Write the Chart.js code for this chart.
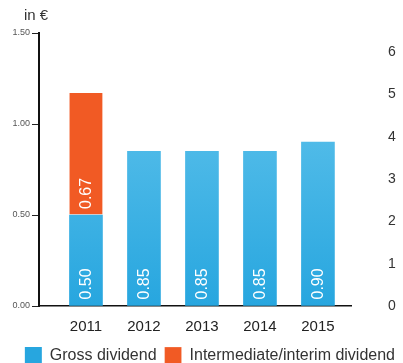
<!DOCTYPE html>
<html>
<head>
<meta charset="utf-8">
<script src="https://cdn.jsdelivr.net/npm/chart.js@4"></script>
<style>
    html, body { margin: 0; padding: 0; background: #fff; }
    #wrap { width: 403px; height: 363px; }
</style>
</head>
<body>
<div id="wrap"><canvas id="dividendChart" width="403" height="363"></canvas></div>
<script>
////// data //////
const years = [2011, 2012, 2013, 2014, 2015];
const grossDividend = [0.50, 0.85, 0.85, 0.85, 0.90];
const interimYears = [2011];
const interimDividend = [0.67];
const yTicks = [0, 0.5, 1.0, 1.5];
const rightTicks = [0, 1, 2, 3, 4, 5, 6];
const unitLabel = 'in €';

const fontFamily = '"Liberation Sans", Arial, sans-serif';

////// DOM //////
const dividendCanvas = document.querySelector('#dividendChart');

// blue bars fade from light at the top to deeper blue at the base
function blueGradient(context) {
    const chart = context.chart;
    const area = chart.chartArea;
    if (!area) return '#3ab0e4';
    const g = chart.ctx.createLinearGradient(0, area.top, 0, area.bottom);
    g.addColorStop(0, '#6ac8ee');
    g.addColorStop(1, '#27a6df');
    return g;
}

// white rotated value text near the bottom of each bar segment
const valueLabels = {
    id: 'valueLabels',
    afterDatasetsDraw(chart) {
        const ctx = chart.ctx;
        chart.data.datasets.forEach((ds, di) => {
            const meta = chart.getDatasetMeta(di);
            meta.data.forEach((bar, i) => {
                const val = ds.data[i].y;
                ctx.save();
                ctx.translate(bar.x, bar.base - 6);
                ctx.rotate(-Math.PI / 2);
                ctx.font = '16px ' + fontFamily;
                ctx.fillStyle = '#ffffff';
                ctx.textAlign = 'left';
                ctx.textBaseline = 'middle';
                ctx.fillText(val.toFixed(2), 0, 1);
                ctx.restore();
            });
        });
    }
};

// unit text sitting above the top of the left axis
const unitTitle = {
    id: 'unitTitle',
    afterDraw(chart) {
        const ctx = chart.ctx;
        const y = chart.scales.y;
        ctx.save();
        ctx.font = '15px ' + fontFamily;
        ctx.fillStyle = '#333';
        ctx.textAlign = 'left';
        ctx.textBaseline = 'middle';
        ctx.fillText(unitLabel, y.right - 15, chart.chartArea.top - 17);
        ctx.restore();
    }
};

////// chart //////
let dividendChart = new Chart(dividendCanvas, {
    type: 'bar',
    data: {
        datasets: [{
            label: 'Gross dividend',
            data: years.map((y, i) => ({ x: y, y: grossDividend[i] })),
            backgroundColor: blueGradient,
            borderWidth: 0,
            barThickness: 33
        }, {
            label: 'Intermediate/interim dividend',
            data: interimYears.map((y, i) => ({ x: y, y: interimDividend[i] })),
            backgroundColor: '#f15a24',
            borderColor: '#ffffff',
            borderWidth: { top: 0, left: 0, right: 0, bottom: 1 },
            borderSkipped: false,
            barThickness: 33
        }]
    },
    options: {
        responsive: false,
        animation: false,
        layout: { padding: { left: 0, right: 0, top: 33, bottom: -11 } },
        scales: {
            x: {
                type: 'linear',
                stacked: true,
                offset: false,
                min: 2010.19,
                max: 2015.57,
                grid: { display: false, drawTicks: false },
                border: { display: true, color: '#111', width: 1.5 },
                afterFit: (scale) => { scale.height = 33; },
                ticks: {
                    stepSize: 1,
                    includeBounds: false,
                    padding: 12,
                    color: '#222',
                    font: { family: fontFamily, size: 15 },
                    callback: (v) => String(v)
                }
            },
            y: {
                stacked: true,
                min: 0,
                max: 1.5,
                afterFit: (scale) => { scale.width = 39; },
                afterBuildTicks: (scale) => { scale.ticks = yTicks.map(v => ({ value: v })); },
                grid: { drawOnChartArea: false, drawTicks: true, tickLength: 7, color: '#222', lineWidth: 1 },
                border: { display: true, color: '#111', width: 2 },
                ticks: {
                    padding: 2,
                    color: '#555',
                    font: { family: fontFamily, size: 9 },
                    callback: (v) => v.toFixed(2)
                }
            },
            // neighbouring axis, only its labels show at the right edge
            y2: {
                position: 'right',
                min: 0,
                max: 6.45,
                afterFit: (scale) => { scale.width = 52; },
                afterBuildTicks: (scale) => { scale.ticks = rightTicks.map(v => ({ value: v })); },
                grid: { display: false, drawTicks: true, tickLength: 35 },
                border: { display: false },
                ticks: {
                    padding: 2,
                    color: '#333',
                    font: { family: fontFamily, size: 14 }
                }
            }
        },
        plugins: {
            legend: {
                position: 'bottom',
                align: 'end',
                labels: {
                    boxWidth: 17,
                    boxHeight: 17,
                    padding: 8,
                    color: '#333',
                    font: { family: fontFamily, size: 16 }
                }
            },
            tooltip: { enabled: false }
        }
    },
    plugins: [valueLabels, unitTitle]
});
</script>
</body>
</html>
